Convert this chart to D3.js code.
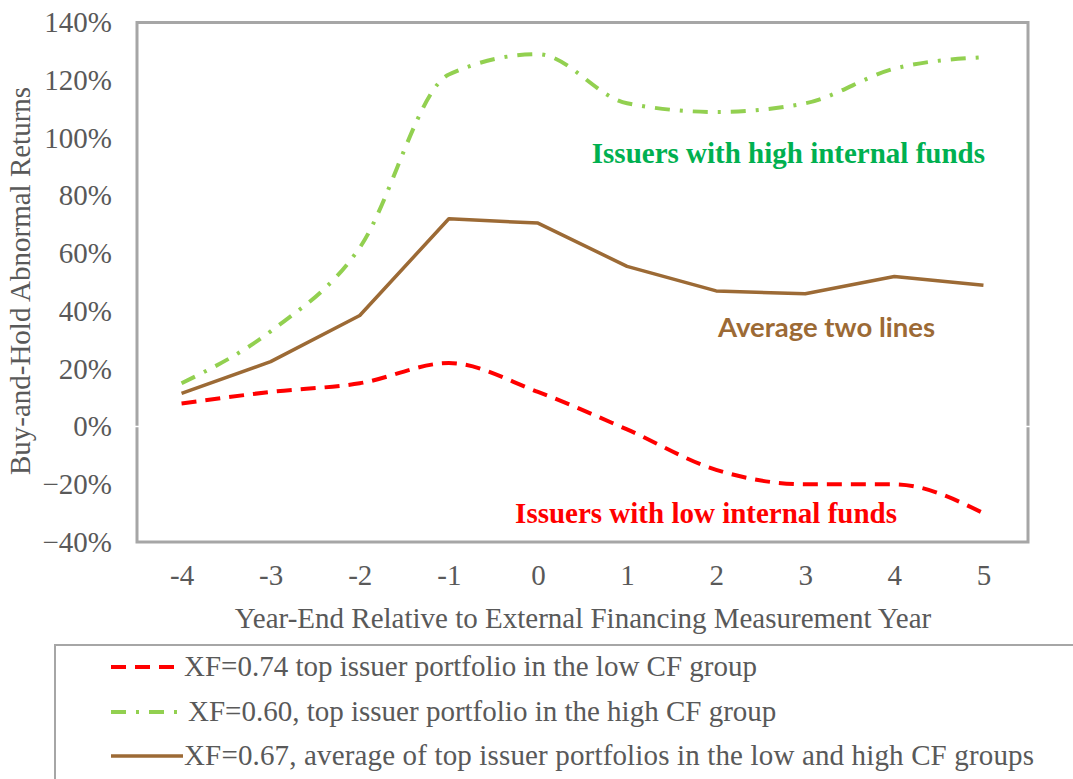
<!DOCTYPE html>
<html>
<head>
<meta charset="utf-8">
<script src="https://cdn.jsdelivr.net/npm/d3@7"></script>
<style>
  body { margin: 0; background: #fff; }
  svg text { font-family: "Liberation Serif", "Times New Roman", serif; }
</style>
</head>
<body>
<script>
var years = [-4, -3, -2, -1, 0, 1, 2, 3, 4, 5];
var lowCF = [0.08, 0.12, 0.15, 0.22, 0.12, -0.01, -0.15, -0.20, -0.20, -0.30];
var highCF = [0.15, 0.33, 0.62, 1.22, 1.29, 1.12, 1.09, 1.12, 1.24, 1.28];
var avgCF = [0.115, 0.225, 0.385, 0.72, 0.705, 0.555, 0.47, 0.46, 0.52, 0.49];
var yTicks = [-0.4, -0.2, 0, 0.2, 0.4, 0.6, 0.8, 1.0, 1.2, 1.4];
var legendLabels = [
  "XF=0.74 top issuer portfolio in the low CF group",
  "XF=0.60, top issuer portfolio in the high CF group",
  "XF=0.67, average of top issuer portfolios in the low and high CF groups"
];

var W = 1073, H = 779;
var pLeft = 137, pRight = 1028, pTop = 22.5, pBottom = 542;
var grey = "#595959", frame = "#a6a6a6";
var fs = 29;

var svg = d3.select("body").append("svg").attr("width", W).attr("height", H);

var x = d3.scalePoint().domain(years).range([pLeft, pRight]).padding(0.5);
var y = d3.scaleLinear().domain([-0.4, 1.4]).range([pBottom, pTop]);

// plot frame
svg.append("rect")
  .attr("x", pLeft).attr("y", pTop)
  .attr("width", pRight - pLeft).attr("height", pBottom - pTop)
  .attr("fill", "#fff").attr("stroke", frame).attr("stroke-width", 3);
// zero line (white, shows as notches in the frame)
svg.append("line")
  .attr("x1", pLeft - 2).attr("x2", pRight + 2)
  .attr("y1", y(0)).attr("y2", y(0))
  .attr("stroke", "#fff").attr("stroke-width", 1.5);

// axes
var yAxis = svg.append("g").attr("transform", "translate(" + pLeft + ",0)")
  .call(d3.axisLeft(y).tickValues(yTicks).tickSize(0).tickPadding(25).tickFormat(d3.format(".0%")));
yAxis.select(".domain").remove();
yAxis.selectAll("text").attr("fill", grey).attr("font-size", fs)
  .style("font-family", "Liberation Serif");

var xAxis = svg.append("g").attr("transform", "translate(0," + pBottom + ")")
  .call(d3.axisBottom(x).tickSize(0).tickPadding(22));
xAxis.select(".domain").remove();
xAxis.selectAll("text").attr("fill", grey).attr("font-size", fs)
  .style("font-family", "Liberation Serif");

svg.append("text")
  .attr("x", 583).attr("y", 628)
  .attr("text-anchor", "middle").attr("fill", grey).attr("font-size", fs)
  .text("Year-End Relative to External Financing Measurement Year");

svg.append("text")
  .attr("transform", "translate(30,281) rotate(-90)")
  .attr("text-anchor", "middle").attr("fill", grey).attr("font-size", fs)
  .text("Buy-and-Hold Abnormal Returns");

// series
var series = [
  { vals: lowCF, color: "#ff0000", dash: "15,9", width: 4, curve: d3.curveMonotoneX },
  { vals: highCF, color: "#92d050", dash: "15,10,3,10", width: 4, curve: d3.curveMonotoneX },
  { vals: avgCF, color: "#9c6a35", dash: null, width: 3.5, curve: d3.curveLinear }
];

series.forEach(function (s) {
  var line = d3.line()
    .x(function (d, i) { return x(years[i]); })
    .y(function (d) { return y(d); })
    .curve(s.curve);
  svg.append("path")
    .attr("d", line(s.vals))
    .attr("fill", "none")
    .attr("stroke", s.color)
    .attr("stroke-width", s.width)
    .attr("stroke-dasharray", s.dash)
    .attr("stroke-linejoin", "round");
});

// annotations
svg.append("text").attr("x", 985).attr("y", 163).attr("text-anchor", "end")
  .attr("fill", "#00b050").attr("font-size", fs).attr("font-weight", "bold")
  .text("Issuers with high internal funds");
svg.append("text").attr("x", 935).attr("y", 337).attr("text-anchor", "end")
  .attr("fill", "#9c6a35").attr("font-size", 27.5).attr("font-weight", "bold")
  .style("font-family", "Lato, 'Open Sans', sans-serif")
  .text("Average two lines");
svg.append("text").attr("x", 897).attr("y", 523).attr("text-anchor", "end")
  .attr("fill", "#ff0000").attr("font-size", fs).attr("font-weight", "bold")
  .text("Issuers with low internal funds");

// legend
svg.append("rect")
  .attr("x", 55).attr("y", 645).attr("width", W).attr("height", 200)
  .attr("fill", "#fff").attr("stroke", frame).attr("stroke-width", 2);

var rowY = [667, 712, 756];
series.forEach(function (s, i) {
  svg.append("line")
    .attr("x1", 111).attr("x2", 183)
    .attr("y1", rowY[i]).attr("y2", rowY[i])
    .attr("stroke", s.color).attr("stroke-width", s.width)
    .attr("stroke-dasharray", s.dash);
  svg.append("text")
    .attr("x", i === 1 ? 188 : 184).attr("y", rowY[i] + 9)
    .attr("fill", grey).attr("font-size", fs)
    .attr("textLength", i === 2 ? 850 : null)
    .text(legendLabels[i]);
});
</script>
</body>
</html>
